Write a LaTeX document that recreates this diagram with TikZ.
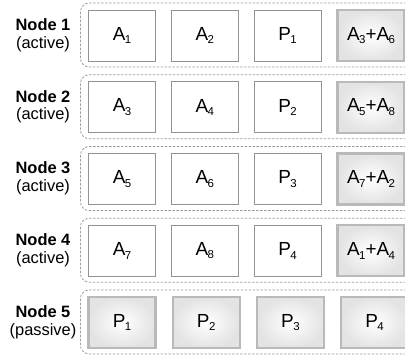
\documentclass[tikz,border=0pt]{standalone}
\usepackage{fontspec}
\setmainfont{Liberation Sans}
\usetikzlibrary{
	positioning
}
\newcommand{\ix}[1]{\kern-0.5pt\raisebox{-0.35ex}{\fontsize{11.5}{13}\selectfont #1}}
\tikzset{
	rowframe/.style={draw=gray!75, thick, dash pattern=on 2.5pt off 1.5pt, rounded corners=9pt, minimum width=335bp, minimum height=64bp, inner sep=0pt},
	membox/.style={draw=gray!85, thick, minimum width=67bp, minimum height=51bp, inner sep=0pt, font=\fontsize{19}{22}\selectfont},
	sumbox/.style={membox, draw=gray!55, line width=2.2pt, inner color=white, outer color=gray!22},
	rowlabel/.style={align=center, font=\fontsize{16.5}{18}\selectfont}
}

\begin{document}
\begin{tikzpicture}[x=1bp, y=-1bp]
	\useasboundingbox (0,0) rectangle (405,356);
	\foreach \r/\kind/\st/\a/\b/\c/\d in {
		1/active/membox/A\ix{1}/A\ix{2}/P\ix{1}/A\ix{3}+A\ix{6},
		2/active/membox/A\ix{3}/A\ix{4}/P\ix{2}/A\ix{5}+A\ix{8},
		3/active/membox/A\ix{5}/A\ix{6}/P\ix{3}/A\ix{7}+A\ix{2},
		4/active/membox/A\ix{7}/A\ix{8}/P\ix{4}/A\ix{1}+A\ix{4},
		5/passive/sumbox/P\ix{1}/P\ix{2}/P\ix{3}/P\ix{4}} {
		\begin{scope}[yshift=-(\r-1)*71.75bp]
			\node[rowframe, anchor=west] (row\r) at (80,35) {};
			\node[rowlabel] (lbl\r) at (43,35) {\textbf{Node \r}\\(\kind)};
			\node[\st] (b\r-1) at (122,35.5) {\a};
			\node[\st, right=15bp of b\r-1] (b\r-2) {\b};
			\node[\st, right=15bp of b\r-2] (b\r-3) {\c};
			\node[sumbox, right=15bp of b\r-3] (b\r-4) {\d};
		\end{scope}
	}
\end{tikzpicture}
\end{document}
